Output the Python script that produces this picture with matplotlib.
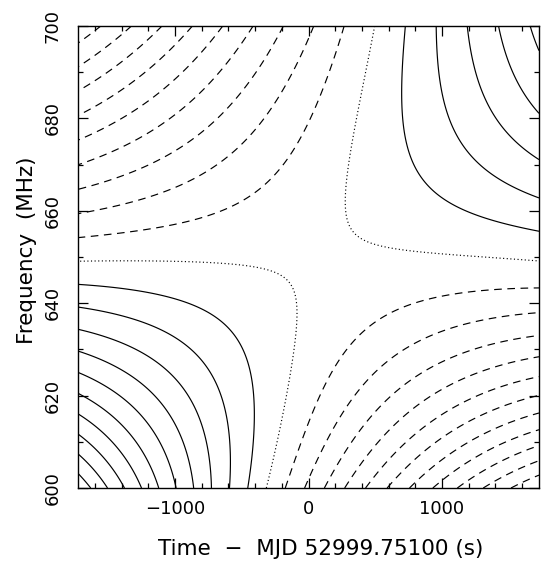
import numpy as np
import matplotlib
matplotlib.use("Agg")
import matplotlib.pyplot as plt
from matplotlib.ticker import MultipleLocator

plt.rcParams['lines.scale_dashes'] = False

# ---------------- values ----------------
# axis ranges
time_lim = (-1728.0, 1728.0)
freq_lim = (600.0, 700.0)

# contour crossings on the bottom edge (600 MHz)
bottom_time = [-1725, -1691, -1541, -1398, -1263, -1136, -1001, -874, -739, -596,
               -439, -296, -154, -4, 131, 281, 424, 611, 768, 918, 1098, 1271, 1436, 1623]
bottom_level = [11, 10, 9, 8, 7, 6, 5, 4, 3, 2, 1, 0, -1, -2, -3, -4, -5, -6, -7, -8,
                -9, -10, -11, -12]
# contour crossings on the top edge (700 MHz)
top_time = [-1563, -1331, -1106, -843, -626, -431, -206, 19, 274, 506, 731, 956, 1173, 1406, 1661]
top_level = [-9, -8, -7, -6, -5, -4, -3, -2, -1, 0, 1, 2, 3, 4, 5]
# contour crossings on the left edge (earliest time)
left_freq = [601.7, 604.1, 607.1, 611.3, 615.6, 620.3, 624.9, 629.7, 634.4, 639.2, 643.9,
             648.9, 653.8, 659.5, 664.8, 670.0, 675.3, 680.6, 685.8, 691.1, 696.3]
left_level = [11, 10, 9, 8, 7, 6, 5, 4, 3, 2, 1, 0, -1, -2, -3, -4, -5, -6, -7, -8, -9]
# contour crossings on the right edge (latest time)
right_freq = [601.3, 604.5, 608.2, 612.6, 616.5, 620.6, 624.9, 629.2, 633.5, 638.5, 642.2,
              648.1, 654.3, 663.9, 671.6, 681.8, 694.4]
right_level = [-11, -10, -9, -8, -7, -6, -5, -4, -3, -2, -1, 0, 1, 2, 3, 4, 5]

# points traced along individual contours inside the frame
zero_up_time = [511, 446, 386, 341, 326, 349, 439, 611, 836, 1083, 1286]
zero_up_freq = [699.8, 691.1, 681.8, 671.6, 662.3, 658.7, 655.2, 653.0, 651.1, 650.0, 649.4]
zero_lo_time = [-1488, -1288, -1034, -663, -289, -163, -79, -51, -64, -114, -191, -251]
zero_lo_freq = [649.5, 649.5, 649.0, 648.3, 648.3, 647.6, 645.5, 641.4, 634.2, 625.5, 616.2, 607.6]
pos1_lo_time = [-1413, -1166, -913, -738, -589, -491, -439, -426]
pos1_lo_freq = [643.6, 641.8, 639.0, 635.7, 631.4, 625.5, 618.4, 611.1]
pos2_lo_time = [-1413, -1038, -791, -663, -604, -589]
pos2_lo_freq = [638.2, 634.2, 629.2, 624.1, 616.9, 607.6]
pos1_up_time = [716, 736, 836, 986, 1188, 1286]
pos1_up_freq = [684.0, 675.3, 668.2, 663.9, 660.2, 658.7]
pos2_up_time = [961, 1036, 1186, 1286]
pos2_up_freq = [684.0, 676.8, 671.6, 670.3]
pos3_up_time = [1286]
pos3_up_freq = [692.6]
neg1_ul_time = [-813, -214]
neg1_ul_freq = [658.0, 670.3]
neg2_ul_time = [-214]
neg2_ul_freq = [686.1]
neg1_lr_time = [311]
neg1_lr_freq = [630.5]

contour_levels = list(range(-12, 12))

# ---------------- build the field from the traced points ----------------
pts_t, pts_f, pts_l = [], [], []
def add(ts, fs, ls):
    pts_t.extend(ts); pts_f.extend(fs); pts_l.extend(ls)

add(bottom_time, [freq_lim[0]] * len(bottom_time), bottom_level)
add(top_time, [freq_lim[1]] * len(top_time), top_level)
add([time_lim[0]] * len(left_freq), left_freq, left_level)
add([time_lim[1]] * len(right_freq), right_freq, right_level)
for ts, fs, lev in [(zero_up_time, zero_up_freq, 0), (zero_lo_time, zero_lo_freq, 0),
                    (pos1_lo_time, pos1_lo_freq, 1), (pos2_lo_time, pos2_lo_freq, 2),
                    (pos1_up_time, pos1_up_freq, 1), (pos2_up_time, pos2_up_freq, 2),
                    (pos3_up_time, pos3_up_freq, 3), (neg1_ul_time, neg1_ul_freq, -1),
                    (neg2_ul_time, neg2_ul_freq, -2), (neg1_lr_time, neg1_lr_freq, -1)]:
    add(ts, fs, [lev] * len(ts))

pts_t = np.asarray(pts_t, float); pts_f = np.asarray(pts_f, float); pts_l = np.asarray(pts_l, float)
t_mid = 0.5 * (time_lim[0] + time_lim[1]); t_scale = 0.5 * (time_lim[1] - time_lim[0])
f_mid = 0.5 * (freq_lim[0] + freq_lim[1]); f_scale = 0.5 * (freq_lim[1] - freq_lim[0])

DEG_T, DEG_F = 3, 4
def design(t, f):
    u = (t - t_mid) / t_scale
    v = (f - f_mid) / f_scale
    return np.stack([u ** i * v ** j for i in range(DEG_T + 1) for j in range(DEG_F + 1)], axis=-1)

A = design(pts_t, pts_f)
coef, *_ = np.linalg.lstsq(A, pts_l, rcond=None)

tg = np.linspace(time_lim[0], time_lim[1], 400)
fg = np.linspace(freq_lim[0], freq_lim[1], 400)
TG, FG = np.meshgrid(tg, fg)
Z = design(TG, FG) @ coef

# ---------------- plot ----------------
W, H = 541, 563
fig = plt.figure(figsize=(W / 100, H / 100), dpi=100)
ax = fig.add_axes([78 / W, 1 - 488 / H, (539 - 78) / W, (488 - 26) / H])

styles = []
for lev in contour_levels:
    if lev < 0:
        styles.append((0, (5.5, 4.0)))
    elif lev == 0:
        styles.append((0, (0.8, 1.8)))
    else:
        styles.append('solid')
ax.contour(TG, FG, Z, levels=contour_levels, colors='black', linewidths=0.85,
           linestyles=styles)

ax.set_xlim(*time_lim)
ax.set_ylim(*freq_lim)
ax.xaxis.set_major_locator(MultipleLocator(1000))
ax.xaxis.set_minor_locator(MultipleLocator(200))
ax.yaxis.set_major_locator(MultipleLocator(20))
ax.yaxis.set_minor_locator(MultipleLocator(10))
ax.tick_params(which='both', direction='in', top=True, right=True, width=0.9, colors='black')
ax.tick_params(which='major', length=7)
ax.tick_params(which='minor', length=3.5)
ax.tick_params(axis='x', which='major', pad=9, labelsize=13)
ax.tick_params(axis='y', which='major', pad=12, labelsize=13)
for lab in ax.get_yticklabels():
    lab.set_rotation(90)
    lab.set_va('center')
for s in ax.spines.values():
    s.set_linewidth(1.0)

fig.text(321 / W, 1 - 549 / H, 'Time  \u2212  MJD 52999.75100 (s)', ha='center', va='center',
         fontsize=15.5)
fig.text(27 / W, 1 - 250 / H, 'Frequency  (MHz)', ha='center', va='center', rotation=90,
         fontsize=15.5)

fig.savefig('out.png', dpi=100)
